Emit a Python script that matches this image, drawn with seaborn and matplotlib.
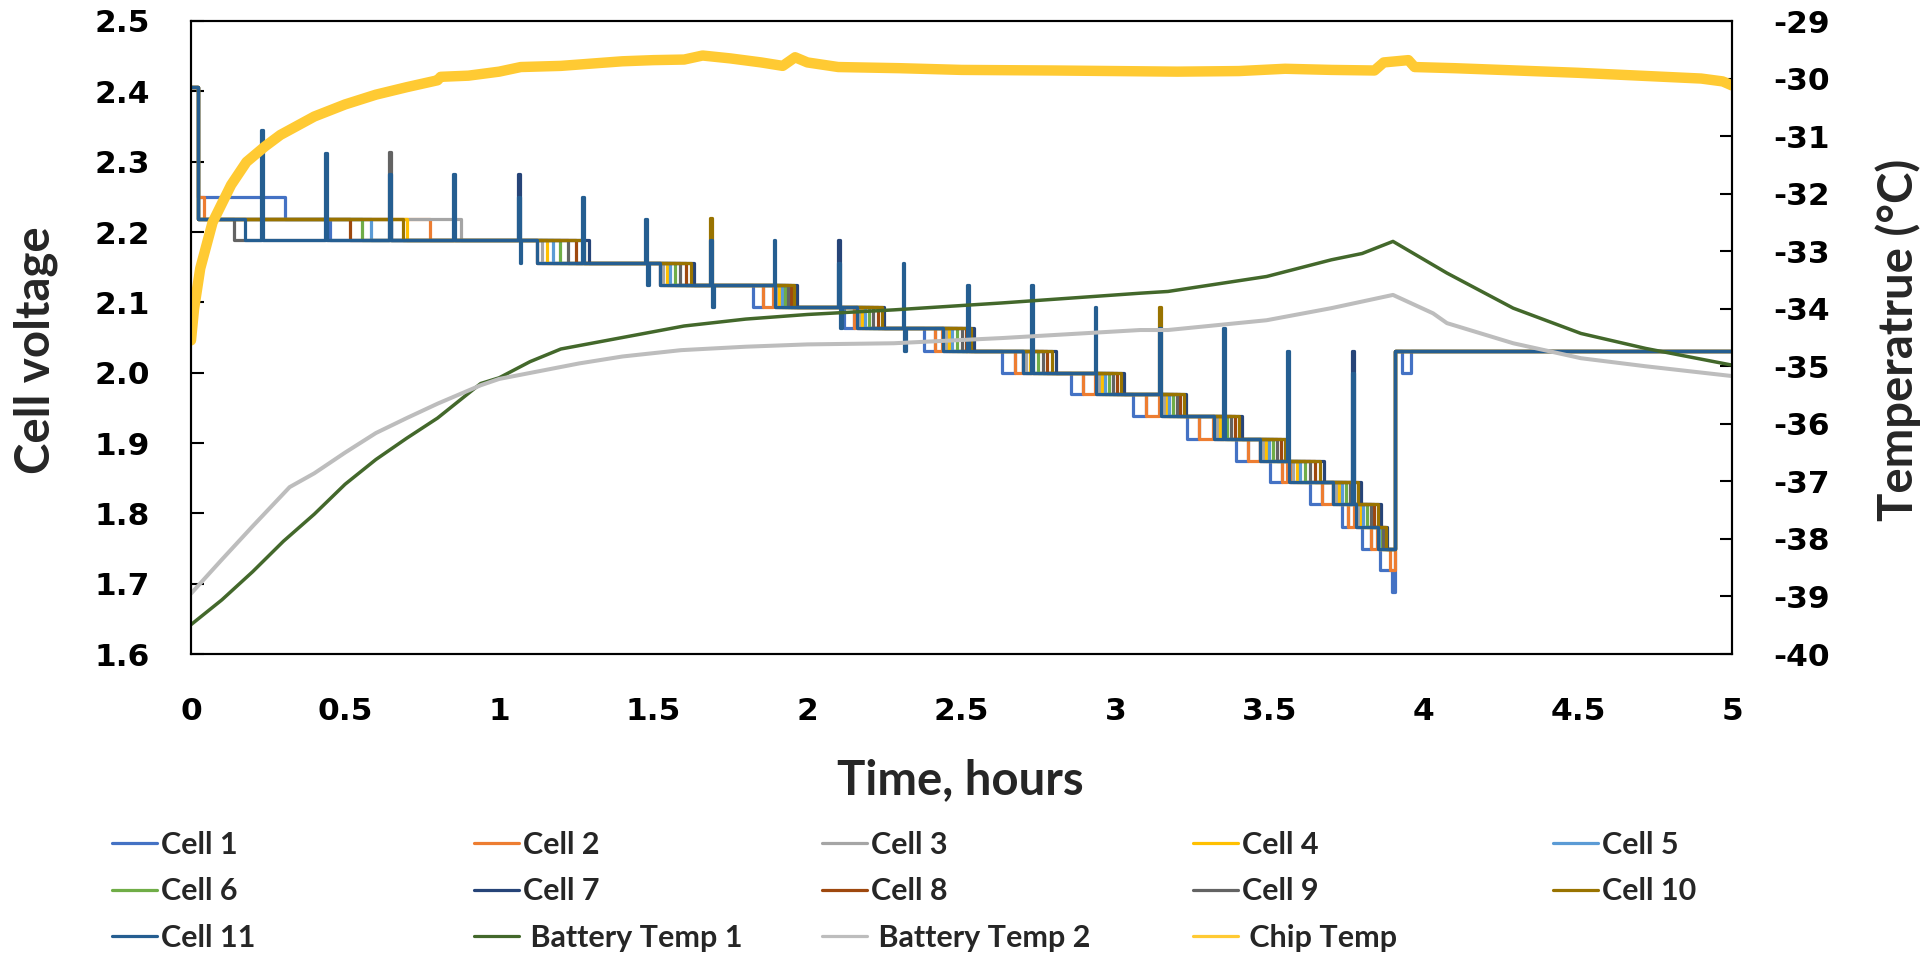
import matplotlib
matplotlib.use("Agg")
import matplotlib.pyplot as plt
import seaborn as sns
from matplotlib.lines import Line2D
from matplotlib.ticker import MultipleLocator, FormatStrFormatter, FuncFormatter

# ---------------- data ----------------
cell_names = ["Cell %d" % i for i in range(1, 12)]
cell_colors = ["#4472C4", "#ED7D31", "#A5A5A5", "#FFC000", "#5B9BD5", "#70AD47",
               "#264478", "#9E480E", "#636363", "#997300", "#255E91"]

# all cells start on a short high step
start_v = 2.406
start_end = 0.022

# voltage staircase (V) and the time Cell 11 steps down to levels[j + 1] (h)
levels = [2.219, 2.188, 2.156, 2.125, 2.094, 2.063, 2.031, 2.0,
          1.969, 1.938, 1.906, 1.875, 1.844, 1.813, 1.781, 1.75]
step_t = [0.175, 1.122, 1.522, 1.895, 2.16, 2.44, 2.70, 2.938,
          3.15, 3.32, 3.47, 3.565, 3.706, 3.78, 3.85]
# how long after Cell 11 the last cell follows, per step (h)
step_spread = [0.0, 0.17, 0.11, 0.07, 0.09, 0.10, 0.105, 0.09,
               0.08, 0.09, 0.09, 0.11, 0.09, 0.08, 0.03]
# position of each following cell inside that spread
lag = {"Cell 3": 0.1, "Cell 4": 0.2, "Cell 5": 0.3, "Cell 6": 0.45,
       "Cell 9": 0.6, "Cell 8": 0.75, "Cell 10": 0.9, "Cell 7": 1.0}
# first step 2.219 -> 2.188, read cell by cell (h)
first_step = {"Cell 1": 0.45, "Cell 2": 0.775, "Cell 3": 0.875, "Cell 4": 0.70,
              "Cell 5": 0.583, "Cell 6": 0.554, "Cell 7": 0.65, "Cell 8": 0.516,
              "Cell 9": 0.14, "Cell 10": 0.687, "Cell 11": 0.175}

# Cell 1 / Cell 2 touch the next level early (start, end) before each step
cell1_dips = [None, None, None, (1.823, 1.857), (2.12, 2.15), (2.377, 2.413),
              (2.63, 2.674), (2.855, 2.895), (3.057, 3.099), (3.231, 3.272),
              (3.39, 3.43), (3.50, 3.54), (3.63, 3.67), (3.735, 3.755), (3.80, 3.83)]
cell2_dips = [None, None, None, (1.857, 1.89), (2.15, 2.158), (2.413, 2.438),
              (2.674, 2.698), (2.895, 2.933), (3.099, 3.142), (3.272, 3.315),
              (3.43, 3.468), (3.54, 3.557), (3.67, 3.704), (3.755, 3.775), (3.83, 3.848)]
cell1_head = (2.25, 0.305)   # value, end time
cell2_head = (2.25, 0.042)
cell1_tail = [(3.857, 1.719), (3.898, 1.688)]
cell2_tail = [(3.89, 1.719)]
recover_t = 3.905
recover_v = 2.031
cell1_after = [(3.93, 2.0), (3.96, 2.031)]
end_t = 5.0

# balancing pulses seen on Cell 11
pulse_t = [0.226, 0.435, 0.644, 0.851, 1.06, 1.268, 1.473, 1.684, 1.893,
           2.100, 2.309, 2.517, 2.727, 2.933, 3.142, 3.35, 3.557, 3.766]
pulse_top = [2.345, 2.313, 2.282, 2.282, 2.25, 2.25, 2.219, 2.188, 2.188,
             2.156, 2.156, 2.125, 2.125, 2.094, 2.063, 2.063, 2.031, 2.0]
pulse_low = [None, None, None, None, 2.156, None, 2.125, 2.094, None,
             2.063, 2.031, None, None, None, None, None, None, None]
# taller pulses of other cells (cell, time, top)
extra_pulses = [("Cell 9", 0.644, 2.314), ("Cell 7", 1.06, 2.282),
                ("Cell 10", 1.684, 2.22), ("Cell 7", 2.100, 2.188),
                ("Cell 10", 3.142, 2.094), ("Cell 7", 3.766, 2.031)]

# temperatures (deg C)
bt1_t = [0.0, 0.1, 0.2, 0.3, 0.4, 0.5, 0.6, 0.7, 0.8, 0.94, 1.0, 1.1, 1.2, 1.4,
         1.6, 1.8, 2.0, 2.28, 2.63, 3.08, 3.17, 3.49, 3.7, 3.8, 3.9, 4.075,
         4.29, 4.51, 4.72, 5.0]
bt1_v = [-39.49, -39.06, -38.57, -38.04, -37.57, -37.05, -36.62, -36.25, -35.9,
         -35.3, -35.2, -34.92, -34.7, -34.5, -34.3, -34.18, -34.1, -34.02,
         -33.9, -33.73, -33.7, -33.44, -33.15, -33.04, -32.83, -33.38, -33.99,
         -34.43, -34.69, -34.98]
bt2_t = [0.0, 0.1, 0.2, 0.32, 0.4, 0.5, 0.6, 0.7, 0.8, 0.94, 1.0, 1.26, 1.4,
         1.59, 1.8, 2.0, 2.28, 2.63, 3.08, 3.17, 3.49, 3.7, 3.9, 4.03, 4.075,
         4.29, 4.51, 4.72, 5.0]
bt2_v = [-38.95, -38.36, -37.78, -37.1, -36.86, -36.5, -36.16, -35.9, -35.65,
         -35.33, -35.22, -34.95, -34.83, -34.72, -34.66, -34.62, -34.6, -34.51,
         -34.37, -34.37, -34.2, -33.99, -33.76, -34.08, -34.25, -34.6, -34.86,
         -35.0, -35.17]
chip_t = [0.0, 0.01, 0.03, 0.07, 0.13, 0.18, 0.24, 0.29, 0.4, 0.5, 0.6, 0.7,
          0.8, 0.81, 0.9, 1.0, 1.07, 1.2, 1.3, 1.4, 1.5, 1.6, 1.66, 1.75, 1.85,
          1.92, 1.96, 2.0, 2.1, 2.3, 2.5, 2.8, 3.0, 3.2, 3.4, 3.55, 3.7, 3.84,
          3.87, 3.95, 3.97, 4.1, 4.3, 4.5, 4.7, 4.9, 4.97, 5.0]
chip_v = [-34.55, -34.0, -33.3, -32.5, -31.85, -31.45, -31.18, -30.98, -30.66,
          -30.45, -30.28, -30.15, -30.03, -29.97, -29.95, -29.88, -29.8, -29.78,
          -29.74, -29.7, -29.68, -29.67, -29.6, -29.65, -29.72, -29.78, -29.63,
          -29.72, -29.8, -29.82, -29.85, -29.86, -29.87, -29.88, -29.87, -29.83,
          -29.85, -29.86, -29.72, -29.68, -29.8, -29.82, -29.86, -29.9, -29.95,
          -30.0, -30.05, -30.12]

# ---------------- build step series ----------------
EPS = 0.006


def level_at(ev, t):
    v = ev[0][1]
    for tt, vv in ev:
        if tt <= t:
            v = vv
    return v


def cell_steps(name):
    ev = [(0.0, start_v)]
    if name == "Cell 1":
        ev += [(start_end, cell1_head[0]), (cell1_head[1], levels[0])]
    elif name == "Cell 2":
        ev += [(start_end, cell2_head[0]), (cell2_head[1], levels[0])]
    else:
        ev.append((start_end, levels[0]))
    for j in range(len(step_t)):
        hi, lo = levels[j], levels[j + 1]
        if j == 0:
            t = first_step[name]
        elif name in lag:
            t = step_t[j] + lag[name] * step_spread[j]
        else:
            t = step_t[j]
        dips = cell1_dips if name == "Cell 1" else cell2_dips if name == "Cell 2" else None
        if dips is not None and dips[j] is not None:
            ev += [(dips[j][0], lo), (dips[j][1], hi)]
        ev.append((t, lo))
    if name == "Cell 1":
        ev += cell1_tail
    if name == "Cell 2":
        ev += cell2_tail
    ev.append((recover_t, recover_v))
    if name == "Cell 1":
        ev += cell1_after
    ev.sort(key=lambda p: p[0])

    pulses = []
    if name == "Cell 11":
        pulses = [(t, top, low) for t, top, low in zip(pulse_t, pulse_top, pulse_low)]
    pulses += [(t, top, None) for c, t, top in extra_pulses if c == name]
    extra = []
    for t, top, low in pulses:
        lvl = level_at(ev, t + 2 * EPS)
        extra += [(t, top), (t + EPS, low if low is not None else lvl), (t + 2 * EPS, lvl)]
    ev = sorted(ev + extra, key=lambda p: p[0])
    ev.append((end_t, recover_v))
    return [p[0] for p in ev], [p[1] for p in ev]


# ---------------- plot ----------------
sns.set_theme(style="white")
plt.rcParams["font.family"] = ["DejaVu Sans"]

fig = plt.figure(figsize=(19.29, 9.56), dpi=100)
ax = fig.add_axes([191 / 1929, 1 - 654 / 956, (1732 - 191) / 1929, (654 - 21) / 956])
ax2 = ax.twinx()

handles = {}
for name, col in zip(cell_names, cell_colors):
    xs, ys = cell_steps(name)
    sns.lineplot(x=xs, y=ys, ax=ax, color=col, linewidth=2.3, drawstyle="steps-post",
                 estimator=None, sort=False, legend=False)
    handles[name] = Line2D([], [], color=col, lw=2.3, solid_capstyle="round")

temps = [("Battery Temp 1", bt1_t, bt1_v, "#43682B", 2.5),
         ("Battery Temp 2", bt2_t, bt2_v, "#BDBDBD", 2.9),
         ("Chip Temp", chip_t, chip_v, "#FFCA33", 7.5)]
for name, tt, vv, col, lw in temps:
    sns.lineplot(x=tt, y=vv, ax=ax2, color=col, linewidth=lw,
                 estimator=None, sort=False, legend=False)
    handles[name] = Line2D([], [], color=col, lw=2.3, solid_capstyle="round")

ax.set_xlim(0, 5)
ax.set_ylim(1.6, 2.5)
ax2.set_ylim(-40, -29)
ax.xaxis.set_major_locator(MultipleLocator(0.5))
ax.xaxis.set_minor_locator(MultipleLocator(0.1))
ax.xaxis.set_major_formatter(FuncFormatter(lambda v, p: "%g" % v))
ax.yaxis.set_major_locator(MultipleLocator(0.1))
ax.yaxis.set_major_formatter(FormatStrFormatter("%.1f"))
ax2.yaxis.set_major_locator(MultipleLocator(1))
ax2.yaxis.set_major_formatter(FormatStrFormatter("%d"))

for a in (ax, ax2):
    for s in a.spines.values():
        s.set_color("black")
        s.set_linewidth(1.5)
ax.tick_params(axis="x", which="major", direction="in", length=10, width=1.5,
               pad=31, labelsize=22.5, colors="black", top=False)
ax.tick_params(axis="x", which="minor", direction="in", length=7, width=1.3, top=False)
ax.tick_params(axis="y", which="major", direction="in", length=9, width=1.5,
               pad=29.5, labelsize=22.5, colors="black", right=False)
ax2.tick_params(axis="y", which="major", direction="in", length=9, width=1.5,
                pad=30, labelsize=22.5, colors="black")
for lab in ax.get_xticklabels() + ax.get_yticklabels() + ax2.get_yticklabels():
    lab.set_fontweight("bold")
ax.set_xlabel("")
ax.set_ylabel("")
ax2.set_ylabel("")

lab_font = dict(family=["Lato", "DejaVu Sans"], fontweight="bold", fontsize=34)
fig.text(36 / 1929, 1 - 350 / 956, "Cell voltage", rotation=90, ha="center", va="center", **lab_font)
fig.text(1898 / 1929, 1 - 340 / 956, "Temperatrue (°C)", rotation=90, ha="center", va="center", **lab_font)
fig.text(960 / 1929, 1 - 780 / 956, "Time, hours", ha="center", va="center", **lab_font)

# legend: five columns, filled row by row
legend_rows = [["Cell 1", "Cell 2", "Cell 3", "Cell 4", "Cell 5"],
               ["Cell 6", "Cell 7", "Cell 8", "Cell 9", "Cell 10"],
               ["Cell 11", "Battery Temp 1", "Battery Temp 2", "Chip Temp"]]
col_x = [112, 474, 822, 1193, 1553]
for c, x0 in enumerate(col_x):
    names = [row[c] for row in legend_rows if c < len(row)]
    labels = [(" " + n) if ("Temp" in n) else n for n in names]
    fig.legend([handles[n] for n in names], labels, loc="upper left",
               bbox_to_anchor=(x0 / 1929, 1 - 831 / 956), frameon=False,
               handlelength=1.47, handletextpad=0.13, labelspacing=0.6,
               borderaxespad=0, borderpad=0,
               prop=dict(family=["Lato", "DejaVu Sans"], weight="bold", size=22))

fig.savefig("out.png", dpi=100)
